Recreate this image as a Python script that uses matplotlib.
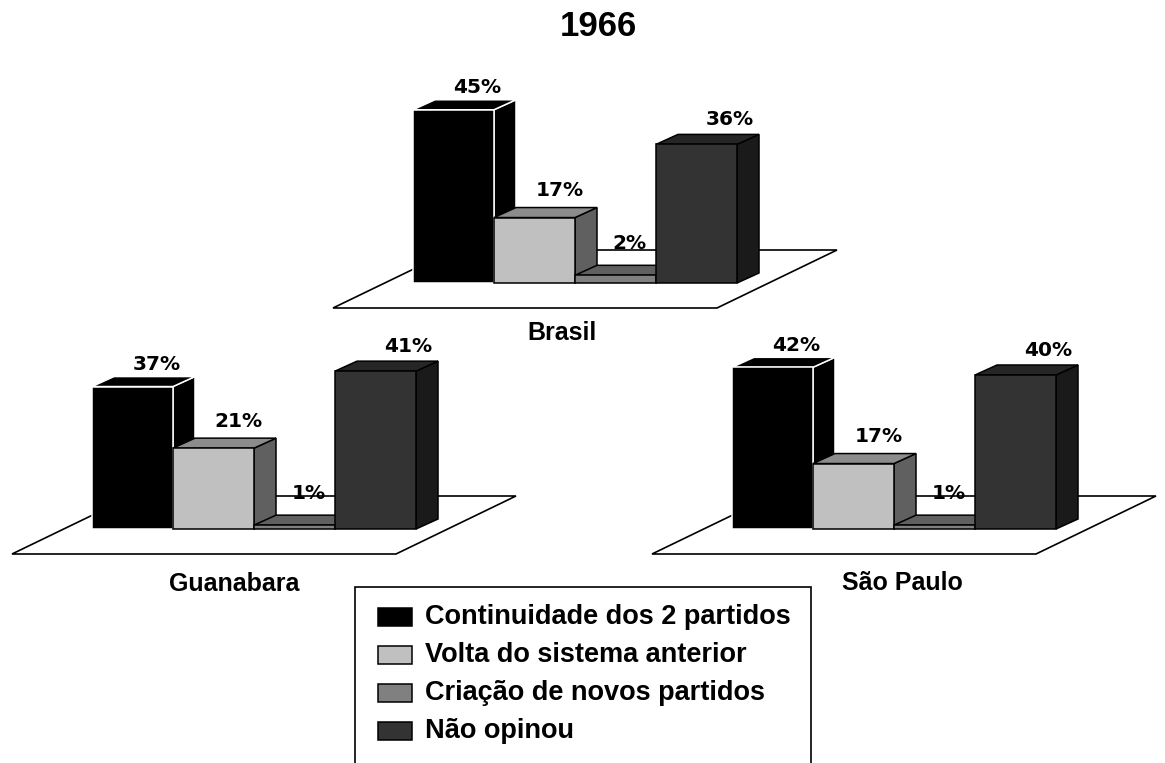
import matplotlib.pyplot as plt
from matplotlib.patches import Polygon, Rectangle

# dados
title = "1966"
regions = ["Brasil", "Guanabara", "São Paulo"]
series = ["Continuidade dos 2 partidos", "Volta do sistema anterior",
          "Criação de novos partidos", "Não opinou"]
brasil = [45, 17, 2, 36]
guanabara = [37, 21, 1, 41]
sao_paulo = [42, 17, 1, 40]
values = [brasil, guanabara, sao_paulo]

# estilo
front = ['#000000', '#C0C0C0', '#808080', '#333333']
top = ['#000000', '#8C8C8C', '#606060', '#262626']
side = ['#000000', '#606060', '#404040', '#1A1A1A']
edge = ['white', 'black', 'black', 'black']
lab_dx = [24, 25, 14, 33]
lab_dy = [22, 27, 32, 25]

W, H = 1165, 763
fig = plt.figure(figsize=(W / 100, H / 100), dpi=100)
ax = fig.add_axes([0, 0, 1, 1])
ax.set_xlim(0, W)
ax.set_ylim(H, 0)
ax.axis('off')

FONT = 'Liberation Sans'
origins = [(333, 308), (12, 554), (652, 554)]  # canto frontal esquerdo do piso
name_pos = [(562, 333), (234, 584), (902, 583)]
floor_w, floor_dx, floor_dy = 384, 120, 58
bar_w, dep_x, dep_y = 81, 22, 10
px_per = 3.85


def panel(x0, y0, vals, name, npos):
    floor = [(x0, y0), (x0 + floor_w, y0), (x0 + floor_w + floor_dx, y0 - floor_dy),
             (x0 + floor_dx, y0 - floor_dy)]
    ax.add_patch(Polygon(floor, closed=True, fc='white', ec='black', lw=1.2))
    base = y0 - 25
    for i, v in enumerate(vals):
        h = v * px_per
        xl = x0 + 80 + i * bar_w
        xr = xl + bar_w
        yt = base - h
        sd = [(xr, base), (xr + dep_x, base - dep_y), (xr + dep_x, yt - dep_y), (xr, yt)]
        tp = [(xl, yt), (xr, yt), (xr + dep_x, yt - dep_y), (xl + dep_x, yt - dep_y)]
        fr = [(xl, base), (xr, base), (xr, yt), (xl, yt)]
        for pts, c in ((sd, side[i]), (tp, top[i]), (fr, front[i])):
            ax.add_patch(Polygon(pts, closed=True, fc=c, ec=edge[i], lw=1.1))
    for i, v in enumerate(vals):
        xc = x0 + 80 + i * bar_w + bar_w / 2 + lab_dx[i]
        yc = base - v * px_per - lab_dy[i]
        ax.text(xc, yc, f"{v}%", ha='center', va='center', fontsize=14.5,
                fontweight='bold', family='DejaVu Sans')
    ax.text(npos[0], npos[1], name, ha='center', va='center', fontsize=18,
            fontweight='bold', family=FONT)


for (x0, y0), vals, name, npos in zip(origins, values, regions, name_pos):
    panel(x0, y0, vals, name, npos)

ax.text(598, 26, title, ha='center', va='center', fontsize=25,
        fontweight='bold', family=FONT)

# legenda (caixa cortada na borda inferior)
ax.add_patch(Rectangle((355, 587), 456, 300, fc='white', ec='black', lw=1.2))
for i, name in enumerate(series):
    yc = 616.5 + i * 38.2
    ax.add_patch(Rectangle((378, yc - 9), 34, 18, fc=front[i], ec='black', lw=1.1))
    ax.text(425, yc, name, ha='left', va='center', fontsize=19.5,
            fontweight='bold', family=FONT)

fig.savefig('out.png', dpi=100)
